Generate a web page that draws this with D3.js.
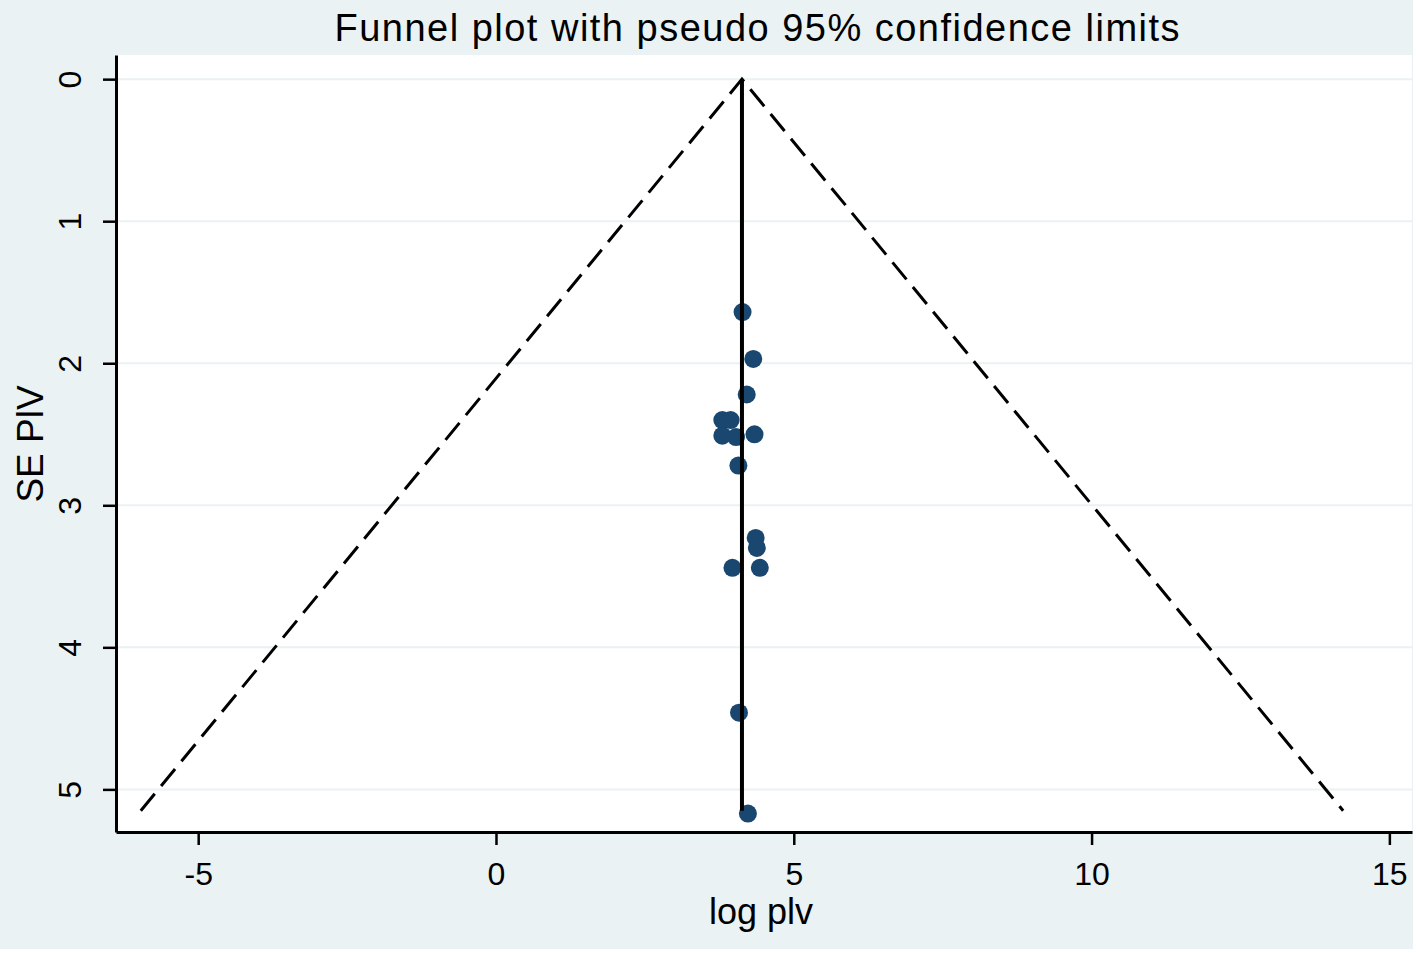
<!DOCTYPE html>
<html>
<head>
<meta charset="utf-8">
<script src="https://cdn.jsdelivr.net/npm/d3@7"></script>
<style>
  body { margin: 0; background: #fff; }
  text { font-family: "Liberation Sans", Arial, sans-serif; }
</style>
</head>
<body>
<div id="canvas"></div>
<script>
// study estimates
const logPlv = [4.14, 4.32, 4.21, 3.80, 3.94, 3.80, 4.03, 4.34, 4.07, 4.36, 4.38, 3.97, 4.43, 4.08, 4.23];
const sePlv  = [1.64, 1.97, 2.22, 2.40, 2.40, 2.51, 2.52, 2.50, 2.72, 3.23, 3.30, 3.44, 3.44, 4.46, 5.17];
const pooled = 4.13;
const seMax = 5.15;
const xTicks = [-5, 0, 5, 10, 15];
const yTicks = [0, 1, 2, 3, 4, 5];

const width = 1416;
const height = 953;
const margin = { top: 55, left: 116, bottom: 121, right: 4 };
const iwidth = width - margin.left - margin.right;
const iheight = height - margin.top - margin.bottom;

const svg = d3.select("#canvas").append("svg")
    .attr("width", width)
    .attr("height", height);

svg.append("rect")
    .attr("width", 1413).attr("height", 949)
    .style("fill", "#eaf2f3");

const g = svg.append("g").attr("transform", `translate(${margin.left},${margin.top})`);

g.append("rect")
    .attr("width", iwidth).attr("height", iheight)
    .style("fill", "#fff");

const x = d3.scaleLinear().domain([-6.38, 15.38]).range([0, iwidth]);
const y = d3.scaleLinear().domain([-0.17, 5.3]).range([0, iheight]);

// gridlines
g.selectAll(".grid").data(yTicks).enter().append("line")
    .attr("x1", 0).attr("x2", iwidth)
    .attr("y1", d => y(d)).attr("y2", d => y(d))
    .style("stroke", "#eaf2f3").style("stroke-width", 2);

// pseudo 95% limits
const z = 1.96;
const funnel = [[pooled - z * seMax, seMax], [pooled, 0], [pooled + z * seMax, seMax]];
g.append("path")
    .attr("d", d3.line().x(d => x(d[0])).y(d => y(d[1]))(funnel))
    .style("fill", "none").style("stroke", "#000")
    .style("stroke-width", 3).style("stroke-dasharray", "22,10");

// points
g.selectAll("circle").data(logPlv).enter().append("circle")
    .attr("cx", d => x(d))
    .attr("cy", (d, i) => y(sePlv[i]))
    .attr("r", 9)
    .style("fill", "#1a476f");

// pooled estimate line
g.append("line")
    .attr("x1", x(pooled)).attr("x2", x(pooled))
    .attr("y1", y(0)).attr("y2", y(seMax))
    .style("stroke", "#000").style("stroke-width", 4);

const fmt = d => String(d).replace("\u2212", "-");

// axes
const xAxis = g.append("g")
    .attr("transform", `translate(0, ${iheight})`)
    .call(d3.axisBottom(x).tickValues(xTicks).tickFormat(fmt).tickSize(13).tickSizeOuter(0).tickPadding(17));
const yAxis = g.append("g")
    .call(d3.axisLeft(y).tickValues(yTicks).tickFormat(fmt).tickSize(13).tickSizeOuter(0));

[xAxis, yAxis].forEach(a => {
    a.select(".domain").style("stroke", "#000").style("stroke-width", 3);
    a.selectAll(".tick line").style("stroke", "#000").style("stroke-width", 2.5);
    a.selectAll("text").style("font-size", "32px").style("fill", "#000")
        .style("font-family", "Liberation Sans, Arial, sans-serif");
});

yAxis.selectAll(".tick text")
    .attr("x", null).attr("dy", null)
    .attr("text-anchor", "middle")
    .attr("transform", "translate(-46,0) rotate(-90)")
    .attr("y", 0).attr("dy", "0.35em");

svg.append("text")
    .attr("x", 757).attr("y", 41)
    .attr("text-anchor", "middle")
    .attr("textLength", 845)
    .style("font-size", "38px")
    .text("Funnel plot with pseudo 95% confidence limits");

svg.append("text")
    .attr("x", 761).attr("y", 924)
    .attr("text-anchor", "middle")
    .style("font-size", "36px")
    .text("log plv");

svg.append("text")
    .attr("transform", "translate(43,444) rotate(-90)")
    .attr("text-anchor", "middle")
    .style("font-size", "37px")
    .text("SE PlV");
</script>
</body>
</html>
